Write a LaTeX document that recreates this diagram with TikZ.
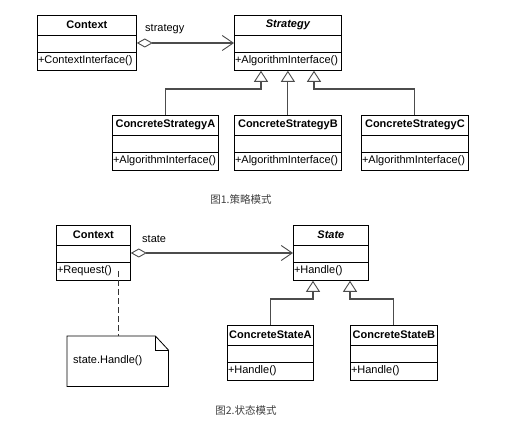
\documentclass[tikz,border=0pt]{standalone}
\usepackage{fontspec}
\setmainfont{Liberation Sans}
\newfontfamily\cjk{Noto Sans CJK SC}
\usetikzlibrary{arrows.meta}
\tikzset{
  clsbox/.style={draw=black, fill=white, line width=0.8pt, minimum height=55pt, inner sep=0pt},
  clstitle/.style={font=\fontsize{11}{13}\selectfont\bfseries, inner sep=0pt},
  clsop/.style={font=\fontsize{11}{13}\selectfont, inner sep=0.8pt, anchor=west},
  divider/.style={draw=black, line width=0.8pt},
  conn/.style={draw=black!70, line width=1.1pt},
  agg/.style={conn, {Diamond[open,length=16pt,width=9pt,fill=white,line width=0.9pt]}-{Straight Barb[length=11pt,width=15pt,line width=0.9pt]}},
  inh/.style={conn, -{Triangle[open,length=11pt,width=14pt,fill=white,line width=0.9pt]}},
  lbl/.style={font=\fontsize{11}{13}\selectfont, inner sep=0pt, anchor=west},
  caption/.style={font=\cjk\fontsize{10.5}{12}\selectfont, text=black!75, inner sep=0pt},
}
% #1 name, #2 x, #3 y, #4 width, #5 title, #6 operation
\newcommand\umlclass[6]{%
  \node[clsbox, minimum width=#4pt, anchor=north west] (#1) at (#2,#3) {};
  \draw[divider] ([yshift=-20pt]#1.north west) -- ([yshift=-20pt]#1.north east);
  \draw[divider] ([yshift=-37pt]#1.north west) -- ([yshift=-37pt]#1.north east);
  \node[clstitle] (#1-t) at ([yshift=-10pt]#1.north) {#5};
  \node[clsop] (#1-o) at ([yshift=-46pt]#1.north west) {#6};
}
\begin{document}
\begin{tikzpicture}[x=1pt,y=-1pt]
\useasboundingbox[fill=white] (0,0) rectangle (511,430);

% ---------- Figure 1: Strategy ----------
\umlclass{ctx}{37}{15}{99}{Context}{+ContextInterface()}
\umlclass{strat}{234}{15}{107}{\itshape Strategy}{+AlgorithmInterface()}
\umlclass{ca}{112}{115}{106}{ConcreteStrategyA}{+AlgorithmInterface()}
\umlclass{cb}{234}{115}{107}{ConcreteStrategyB}{+AlgorithmInterface()}
\umlclass{cc}{361}{115}{107}{ConcreteStrategyC}{+AlgorithmInterface()}

\draw[agg] ([yshift=-28pt]ctx.north east) -- ([yshift=-28pt]strat.north west);
\node[lbl] (lstrat) at (145,29) {strategy};

\coordinate (ja) at (261,89);
\coordinate (jc) at (314,89);
\draw[inh] (ca.north) |- (ja) -- (ja |- strat.south);
\draw[inh] (cb.north) -- (cb.north |- strat.south);
\draw[inh] (cc.north) |- (jc) -- (jc |- strat.south);

\node[caption] (cap1) at (241,200) {图1.策略模式};

% ---------- Figure 2: State ----------
\umlclass{ctx2}{56}{225}{74}{Context}{+Request()}
\umlclass{st}{293}{225}{75}{\itshape State}{+Handle()}
\umlclass{sa}{227}{325}{86}{ConcreteStateA}{+Handle()}
\umlclass{sb}{350}{325}{87}{ConcreteStateB}{+Handle()}

\draw[agg] ([yshift=-28pt]ctx2.north east) -- ([yshift=-28pt]st.north west);
\node[lbl] (lstate) at (142,239) {state};

\coordinate (jsa) at (313,299);
\coordinate (jsb) at (350,299);
\draw[inh] (sa.north) |- (jsa) -- (jsa |- st.south);
\draw[inh] (sb.north) |- (jsb) -- (jsb |- st.south);

% note
\node[minimum width=101pt, minimum height=50pt, inner sep=0pt, anchor=north west] (note) at (67,336) {};
\draw[line width=0.8pt, fill=white] (note.north west) -- ([xshift=-13pt]note.north east) -- ([yshift=-14pt]note.north east) -- (note.south east) -- (note.south west) -- cycle;
\draw[line width=0.8pt] ([xshift=-13pt]note.north east) -- ++(0,-14pt) -- ([yshift=-14pt]note.north east);
\node[lbl] (notetext) at (73,361) {state.Handle()};
\coordinate (anc) at (118,271);
\draw[line width=1pt, draw=black!80, dash pattern=on 6pt off 3pt] (anc) -- (anc |- note.north);

\node[caption] (cap2) at (246,410) {图2.状态模式};
\end{tikzpicture}
\end{document}
